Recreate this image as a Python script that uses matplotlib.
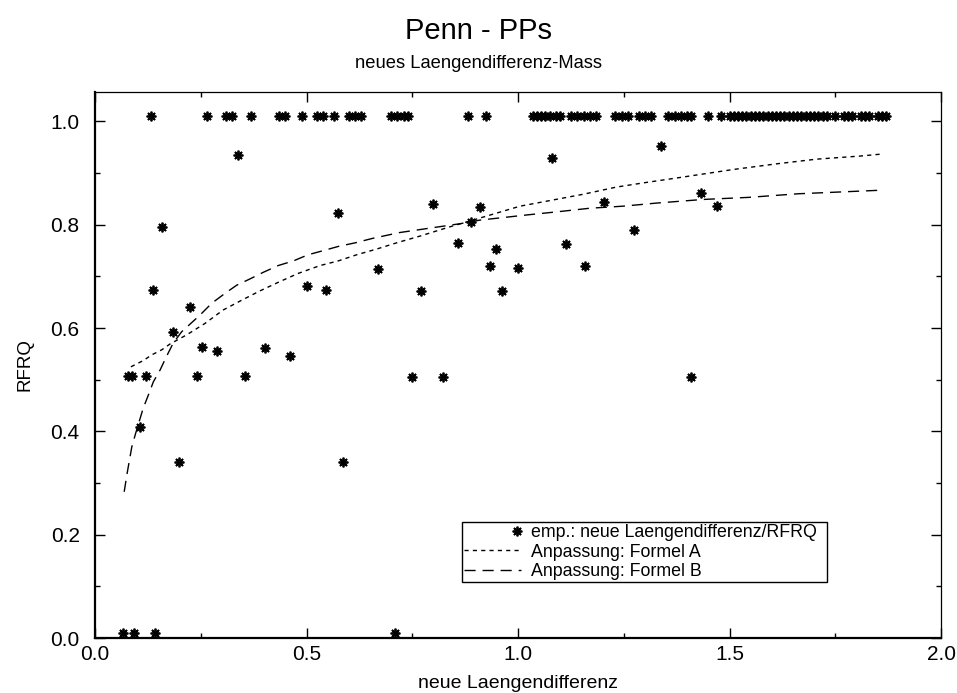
import numpy as np
import matplotlib
matplotlib.use("Agg")
import matplotlib.pyplot as plt
from matplotlib.legend_handler import HandlerLine2D

plt.rcParams['font.family'] = ['Liberation Sans', 'DejaVu Sans']

# empirical points: neue Laengendifferenz vs RFRQ
top_x = [0.132, 0.265, 0.31, 0.325, 0.369, 0.435, 0.45, 0.489, 0.525, 0.54,
         0.565, 0.60, 0.615, 0.63, 0.70, 0.715, 0.73, 0.74, 0.882, 0.924,
         1.035, 1.045, 1.055, 1.065, 1.075, 1.09, 1.10,
         1.125, 1.14, 1.155, 1.17, 1.185, 1.23, 1.245, 1.26,
         1.285, 1.30, 1.315, 1.355, 1.37, 1.385, 1.40, 1.41,
         1.45, 1.48, 1.50, 1.51, 1.52, 1.53, 1.54, 1.55, 1.56, 1.57, 1.58,
         1.59, 1.60, 1.61, 1.62, 1.63, 1.64, 1.65, 1.66, 1.67, 1.68, 1.69,
         1.70, 1.71, 1.72, 1.73, 1.75, 1.77, 1.78, 1.79, 1.81, 1.82, 1.83,
         1.85, 1.86, 1.87]
top_y = [1.01] * len(top_x)

bottom_x = [0.067, 0.093, 0.143, 0.709]
bottom_y = [0.01] * len(bottom_x)

mid_x = [0.339, 0.158, 0.575, 0.136, 0.668, 0.502, 0.546, 0.225, 0.185, 0.252,
         0.288, 0.402, 0.462, 0.078, 0.088, 0.121, 0.240, 0.355, 0.106, 0.199,
         0.587, 1.080, 1.337, 0.800, 0.909, 0.890, 1.203, 0.857, 0.947, 1.113,
         1.274, 0.934, 0.999, 1.159, 0.770, 0.962, 1.432, 1.471, 0.749, 0.822,
         1.408]
mid_y = [0.936, 0.796, 0.823, 0.674, 0.714, 0.681, 0.673, 0.640, 0.592, 0.564,
         0.556, 0.562, 0.546, 0.508, 0.508, 0.508, 0.507, 0.507, 0.409, 0.340,
         0.340, 0.929, 0.953, 0.840, 0.834, 0.805, 0.845, 0.764, 0.754, 0.763,
         0.790, 0.720, 0.716, 0.720, 0.672, 0.672, 0.862, 0.836, 0.506, 0.506,
         0.505]

emp_x = top_x + bottom_x + mid_x
emp_y = top_y + bottom_y + mid_y

# fitted curves
fa_x = [0.085, 0.114, 0.134, 0.158, 0.177, 0.217, 0.260, 0.303, 0.347, 0.390,
        0.437, 0.481, 0.532, 0.575, 0.619, 0.666, 0.713, 0.768, 0.839, 0.910,
        1.005, 1.083, 1.154, 1.233, 1.304, 1.379, 1.509, 1.612, 1.706, 1.809,
        1.862]
fa_y = [0.525, 0.537, 0.548, 0.558, 0.569, 0.587, 0.609, 0.635, 0.654, 0.672,
        0.690, 0.706, 0.721, 0.730, 0.742, 0.753, 0.765, 0.778, 0.796, 0.813,
        0.836, 0.848, 0.859, 0.873, 0.882, 0.891, 0.907, 0.918, 0.927, 0.933,
        0.937]

fb_x = [0.069, 0.076, 0.087, 0.096, 0.114, 0.126, 0.138, 0.154, 0.169, 0.185,
        0.205, 0.248, 0.276, 0.307, 0.335, 0.366, 0.398, 0.433, 0.469, 0.504,
        0.540, 0.575, 0.615, 0.658, 0.721, 0.796, 0.863, 0.910, 1.021, 1.092,
        1.170, 1.249, 1.328, 1.438, 1.545, 1.663, 1.777, 1.862]
fb_y = [0.283, 0.319, 0.370, 0.396, 0.445, 0.470, 0.496, 0.519, 0.545, 0.571,
        0.593, 0.625, 0.648, 0.667, 0.683, 0.695, 0.708, 0.721, 0.730, 0.742,
        0.750, 0.758, 0.765, 0.774, 0.785, 0.794, 0.802, 0.809, 0.819, 0.825,
        0.832, 0.836, 0.842, 0.849, 0.853, 0.860, 0.864, 0.867]

x_ticks = [0.0, 0.5, 1.0, 1.5, 2.0]
y_ticks = [0.0, 0.2, 0.4, 0.6, 0.8, 1.0]


class RightMarker(HandlerLine2D):
    # one legend marker at the right end of the sample, gnuplot style
    def get_xdata(self, legend, xdescent, ydescent, width, height, fontsize):
        xm = [-xdescent + width - 3]
        return xm, xm


fig = plt.figure(figsize=(9.57, 6.93), dpi=100)
ax = fig.add_axes([95 / 957, 1 - 638 / 693, 846 / 957, 546 / 693])

star = (8, 2, 0)
emp, = ax.plot(emp_x, emp_y, linestyle='none', marker=star, color='black',
               markersize=7, markeredgewidth=1.3)
la, = ax.plot(fa_x, fa_y, color='black', linewidth=1.0, dashes=(3, 3))
lb, = ax.plot(fb_x, fb_y, color='black', linewidth=1.0, dashes=(8, 5))

ax.set_xlim(0, 2.0)
ax.set_ylim(0, 1.057)
ax.set_xticks(x_ticks)
ax.set_xticklabels(['0.0', '0.5', '1.0', '1.5', '2.0'])
ax.set_yticks(y_ticks)
ax.set_yticklabels(['0.0', '0.2', '0.4', '0.6', '0.8', '1.0'])
ax.set_xticks([0.25, 0.75, 1.25, 1.75], minor=True)
ax.set_yticks([0.1, 0.3, 0.5, 0.7, 0.9], minor=True)
ax.tick_params(which='both', direction='in', top=True, right=True, width=1.0)
ax.tick_params(which='major', length=7, labelsize=15)
ax.tick_params(which='minor', length=3.5)
ax.tick_params(axis='y', pad=11)
ax.tick_params(axis='x', pad=5)

for side in ['bottom', 'left']:
    ax.spines[side].set_linewidth(1.6)
for side in ['top', 'right']:
    ax.spines[side].set_linewidth(0.9)

ax.set_xlabel('neue Laengendifferenz', fontsize=14)
ax.set_ylabel('RFRQ', fontsize=13.5)
ax.xaxis.set_label_coords(0.5, -37 / 546)
ax.yaxis.set_label_coords(-62 / 846, 0.5)

fig.text(0.5, 1 - 31 / 693, 'Penn - PPs', ha='center', va='center', fontsize=21)
fig.text(0.5, 1 - 63 / 693, 'neues Laengendifferenz-Mass', ha='center', va='center', fontsize=13.2)

leg = ax.legend([emp, la, lb],
                ['emp.: neue Laengendifferenz/RFRQ', 'Anpassung: Formel A', 'Anpassung: Formel B'],
                loc='lower left', bbox_to_anchor=(0.434, 0.1026, 0.431, 0.11),
                mode='expand', fontsize=12.8, numpoints=1, handlelength=3.2,
                handletextpad=0.6, borderpad=0.1, labelspacing=0.15,
                borderaxespad=0, fancybox=False, framealpha=1,
                handler_map={emp: RightMarker(numpoints=2)})
leg.get_frame().set_edgecolor('black')
leg.get_frame().set_linewidth(1.0)

fig.savefig('out.png', dpi=100)
